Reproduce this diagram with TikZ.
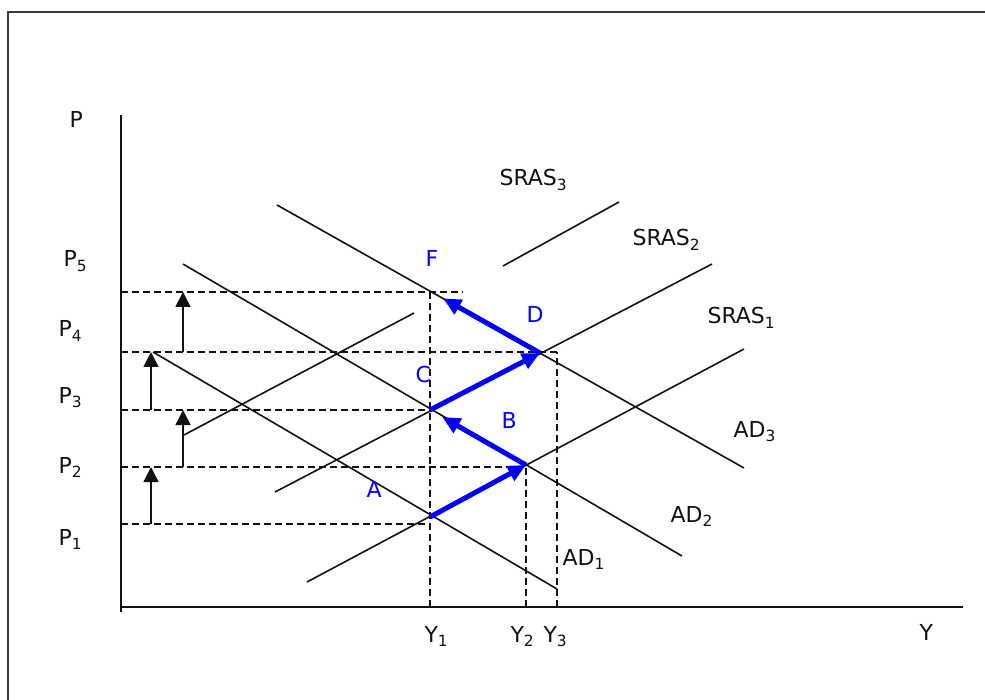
\documentclass[tikz,border=0pt]{standalone}
\usepackage{fontspec}
\setmainfont{DejaVu Sans}
\usetikzlibrary{arrows.meta}
\definecolor{ink}{HTML}{111111}
\definecolor{frame}{HTML}{3A3A3A}
\definecolor{shiftblue}{HTML}{0000FF}

\begin{document}
\begin{tikzpicture}[x=1pt,y=-1pt,font=\fontsize{22}{26}\selectfont,text=ink,
  curve/.style={ink,line width=1.6pt},
  guide/.style={ink,line width=1.4pt,dash pattern=on 7pt off 4pt},
  lift/.style={ink,line width=1.7pt,-{Triangle[width=15pt,length=15pt]}},
  shiftarrow/.style={shiftblue,line width=5pt,-{Triangle[width=16pt,length=18pt]}},
  ptlabel/.style={text=shiftblue,anchor=base west},
  curvelabel/.style={anchor=base west}]
  \useasboundingbox (0,0) rectangle (985,700);
  \draw[frame,line width=2.6pt] (8,700) -- (8,12) -- (985,12);
  % axes and levels
  \coordinate (O) at (121,607);
  \coordinate (p1) at (121,524); \coordinate (p2) at (121,467);
  \coordinate (p3) at (121,410); \coordinate (p4) at (121,352);
  \coordinate (p5) at (121,292); \coordinate (p5end) at (463,292);
  \coordinate (y1) at (430,607); \coordinate (y2) at (526,607);
  \coordinate (y3) at (557,607);
  \draw[ink,line width=1.9pt] (121,115) -- (121,612);
  \draw[ink,line width=1.9pt] (O) -- (963,607);
  \draw[guide] (p5) -- (p5end);
  \draw[guide] (p4) -- (p4 -| y3);
  \draw[guide] (p3) -- (p3 -| y1);
  \draw[guide] (p2) -- (p2 -| y2);
  \draw[guide] (p1) -- (p1 -| y1);
  \draw[guide] (y1) -- (y1 |- p5);
  \draw[guide] (y2) -- (y2 |- p2);
  \draw[guide] (y3) -- (y3 |- p4);
  % supply and demand curves
  \draw[curve] (307,582) -- (744,349);
  \draw[curve] (275,492) -- (712,264);
  \draw[curve] (184,435) -- (414,313);
  \draw[curve] (503,266) -- (619,202);
  \draw[curve] (153,352) -- (557,589);
  \draw[curve] (183,264) -- (682,556);
  \draw[curve] (277,205) -- (744,468);
  % price rises
  \coordinate (l1) at (151,0); \coordinate (l2) at (183,0);
  \draw[lift] (p1 -| l1) -- (p2 -| l1);
  \draw[lift] (p2 -| l2) -- (p3 -| l2);
  \draw[lift] (p3 -| l1) -- (p4 -| l1);
  \draw[lift] (p4 -| l2) -- (p5 -| l2);
  % path of the economy
  \coordinate (A) at (430,517); \coordinate (B) at (526,465);
  \coordinate (C) at (430,410); \coordinate (D) at (540,353);
  \coordinate (F) at (430,291);
  \draw[shiftarrow] (A) -- (B);
  \draw[shiftarrow,shorten >=14pt] (B) -- (C);
  \draw[shiftarrow] (C) -- (D);
  \draw[shiftarrow,shorten >=15pt] (D) -- (F);
  \node[ptlabel] (lA) at (363,497) {A};
  \node[ptlabel] (lB) at (498,428) {B};
  \node[ptlabel] (lC) at (412,382) {C};
  \node[ptlabel] (lD) at (523,323) {D};
  \node[ptlabel] (lF) at (422,267) {F};
  % labels
  \node[curvelabel] (lP) at (66,128) {P};
  \node[curvelabel] (lP5) at (60,267) {P\textsubscript{5}};
  \node[curvelabel] (lP4) at (55,337) {P\textsubscript{4}};
  \node[curvelabel] (lP3) at (55,403) {P\textsubscript{3}};
  \node[curvelabel] (lP2) at (55,473) {P\textsubscript{2}};
  \node[curvelabel] (lP1) at (55,545) {P\textsubscript{1}};
  \node[curvelabel] (lY1) at (421,642) {Y\textsubscript{1}};
  \node[curvelabel] (lY2) at (507,642) {Y\textsubscript{2}};
  \node[curvelabel] (lY3) at (540,642) {Y\textsubscript{3}};
  \node[curvelabel] (lY) at (916,640) {Y};
  \node[curvelabel] (lS3) at (496,186) {SRAS\textsubscript{3}};
  \node[curvelabel] (lS2) at (629,246) {SRAS\textsubscript{2}};
  \node[curvelabel] (lS1) at (704,324) {SRAS\textsubscript{1}};
  \node[curvelabel] (lD3) at (730,437) {AD\textsubscript{3}};
  \node[curvelabel] (lD2) at (667,522) {AD\textsubscript{2}};
  \node[curvelabel] (lD1) at (559,565) {AD\textsubscript{1}};
\end{tikzpicture}
\end{document}
